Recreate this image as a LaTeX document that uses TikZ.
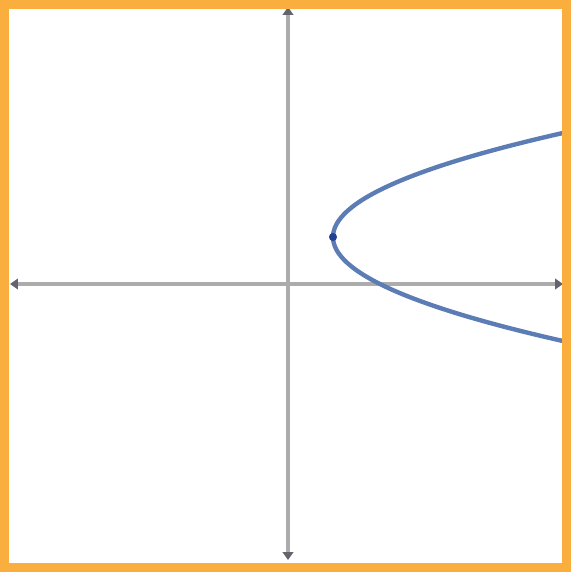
\documentclass[tikz,border=0pt]{standalone}
\usepackage{tikz}
\usetikzlibrary{arrows.meta}
\definecolor{frameorange}{RGB}{250,174,62}
\definecolor{axisgray}{RGB}{172,172,172}
\definecolor{tipgray}{RGB}{100,100,110}
\definecolor{curveblue}{RGB}{92,124,182}
\definecolor{dotblue}{RGB}{35,65,145}
\tikzset{
    axis/.style={draw=axisgray, line width=2.7pt, {Triangle[length=4.5pt,width=6pt,color=tipgray]}-{Triangle[length=4.5pt,width=6pt,color=tipgray]}},
    curve/.style={draw=curveblue, line width=2.5pt},
    frame/.style={draw=frameorange, line width=5pt}
}
\begin{document}
\begin{tikzpicture}[x=0.02cm, y=-0.02cm]

% --- Bounding box and background ---
\useasboundingbox (0,0) rectangle (571,572);
\fill[white] (0,0) rectangle (571,572);

% --- Axis end points ---
\coordinate (left) at (10,284);
\coordinate (right) at (563,284);
\coordinate (top) at (288,7);
\coordinate (bottom) at (288,560);

% --- Parabola end points and vertex ---
\coordinate (upper) at (570,131.4);
\coordinate (vertex) at (333,237);
\coordinate (lower) at (570,342.6);

% --- Axes ---
\draw[axis] (left) -- (right);
\draw[axis] (top) -- (bottom);

% --- Parabola opening right (exact cubic pieces) ---
\begin{scope}
  \clip (9,7) rectangle (564,564);
  \draw[curve] (upper) .. controls (412,166.6) and (333,201.8) .. (vertex)
               .. controls (333,272.2) and (412,307.4) .. (lower);
\end{scope}
\fill[dotblue] (vertex) circle (2.3pt);

% --- Orange frame ---
\draw[frame] (4.4,4.4) rectangle (566.6,567.6);

\end{tikzpicture}
\end{document}
